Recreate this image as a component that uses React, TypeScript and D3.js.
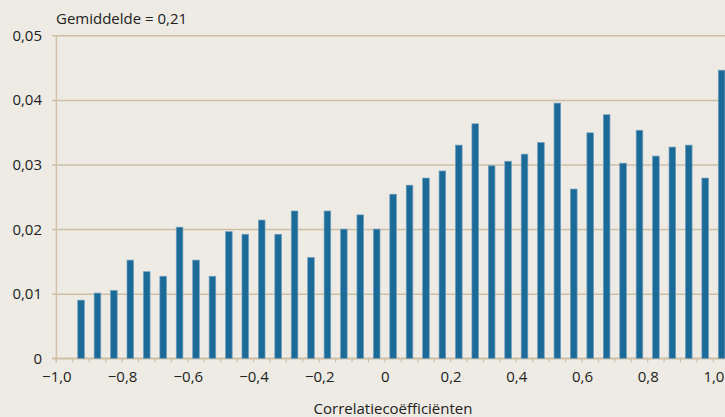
import { select, scaleLinear, axisLeft, axisBottom, range } from "d3";
import React, { useRef, useEffect } from "react";

// bin centres of the correlation histogram (bins of 0.05)
const binCenters = [
  -0.925, -0.875, -0.825, -0.775, -0.725, -0.675, -0.625, -0.575, -0.525, -0.475,
  -0.425, -0.375, -0.325, -0.275, -0.225, -0.175, -0.125, -0.075, -0.025, 0.025,
  0.075, 0.125, 0.175, 0.225, 0.275, 0.325, 0.375, 0.425, 0.475, 0.525,
  0.575, 0.625, 0.675, 0.725, 0.775, 0.825, 0.875, 0.925, 0.975, 1.025,
];

// share of pairs per bin
const shares = [
  0.0090, 0.0101, 0.0105, 0.0152, 0.0134, 0.0127, 0.0203, 0.0152, 0.0127, 0.0196,
  0.0192, 0.0214, 0.0192, 0.0228, 0.0156, 0.0228, 0.0200, 0.0222, 0.0200, 0.0254,
  0.0268, 0.0279, 0.0290, 0.0330, 0.0363, 0.0298, 0.0305, 0.0316, 0.0334, 0.0395,
  0.0262, 0.0349, 0.0377, 0.0302, 0.0353, 0.0313, 0.0327, 0.0330, 0.0279, 0.0446,
];

const yTicks = [0, 0.01, 0.02, 0.03, 0.04, 0.05];
const xLabelTicks = [-1, -0.8, -0.6, -0.4, -0.2, 0, 0.2, 0.4, 0.6, 0.8, 1];

const meanLabel = "Gemiddelde = 0,21";
const xTitle = "Correlatiecoëfficiënten";

const W = 725;
const H = 417;
const FONT = "'Open Sans', sans-serif";

// dutch number format: comma decimal, real minus sign
const fmt = (v: number, digits: number) => {
  if (Math.abs(v) < 1e-9) return "0";
  const s = Math.abs(v).toFixed(digits).replace(".", ",");
  return v < 0 ? "\u2212" + s : s;
};

function App() {
  const svgRef = useRef<SVGSVGElement>(null);

  useEffect(() => {
    const svg = select(svgRef.current);
    svg.selectAll("*").remove();

    const x = scaleLinear().domain([-1, 1]).range([56.4, 713.4]);
    const y = scaleLinear().domain([0, 0.05]).range([358.3, 35.3]);

    svg.append("rect").attr("width", W).attr("height", H).attr("fill", "#eeebe4");

    // horizontal grid + y labels
    const yAxis = axisLeft(y)
      .tickValues(yTicks)
      .tickSize(-(W - 52))
      .tickPadding(0)
      .tickFormat((d) => fmt(+d, 2).replace(/^0,00$/, "0"));
    const gy = svg.append("g").attr("transform", "translate(52,0)").call(yAxis);
    gy.select(".domain").remove();
    gy.selectAll(".tick line").attr("stroke", "#cdbfa6").attr("stroke-width", 1.5);
    gy.selectAll(".tick text")
      .attr("x", -10)
      .attr("dy", "0.33em")
      .attr("fill", "#222")
      .style("font-family", FONT)
      .style("font-size", "15px");

    // vertical axis line
    svg.append("line")
      .attr("x1", x(-1)).attr("x2", x(-1))
      .attr("y1", y(0.05)).attr("y2", y(0) + 4)
      .attr("stroke", "#d2c3a5").attr("stroke-width", 1.5);

    // x axis: small tick every 0.05, labels every 0.2
    const gx = svg.append("g").attr("transform", `translate(0,${y(0)})`);
    gx.append("line")
      .attr("x1", 52).attr("x2", W)
      .attr("stroke", "#cdbfa6").attr("stroke-width", 1.5);
    gx.selectAll(".minor")
      .data(range(41).map((i) => -1 + i * 0.05))
      .join("line")
      .attr("x1", (d) => x(d)).attr("x2", (d) => x(d))
      .attr("y1", 0).attr("y2", 4)
      .attr("stroke", "#cdbfa6").attr("stroke-width", 1.2);
    const xAxis = axisBottom(x)
      .tickValues(xLabelTicks)
      .tickSize(0)
      .tickPadding(0)
      .tickFormat((d) => fmt(+d, 1).replace(/^0,0$/, "0"));
    const gl = gx.append("g").call(xAxis);
    gl.select(".domain").remove();
    gl.selectAll(".tick text")
      .attr("y", 24)
      .attr("dy", 0)
      .attr("fill", "#222")
      .style("font-family", FONT)
      .style("font-size", "15px");

    // bars
    svg.selectAll(".bar")
      .data(shares)
      .join("rect")
      .attr("class", "bar")
      .attr("x", (d, i) => x(binCenters[i]) - 3.3)
      .attr("y", (d) => y(d))
      .attr("width", 6.6)
      .attr("height", (d) => y(0) - y(d))
      .attr("fill", "#1b6a98")
      .attr("stroke", "#6f9dbd")
      .attr("stroke-width", 0.7);

    svg.append("text")
      .attr("x", 56).attr("y", 24)
      .attr("fill", "#222")
      .style("font-family", FONT)
      .style("font-size", "15px")
      .text(meanLabel);

    svg.append("text")
      .attr("x", 393).attr("y", 414)
      .attr("text-anchor", "middle")
      .attr("fill", "#222")
      .style("font-family", FONT)
      .style("font-size", "15px")
      .text(xTitle);
  }, []);

  return (
    <svg
      ref={svgRef}
      width={W}
      height={H}
      style={{ position: "absolute", left: 0, top: 0, display: "block" }}
    />
  );
}

export default App;
